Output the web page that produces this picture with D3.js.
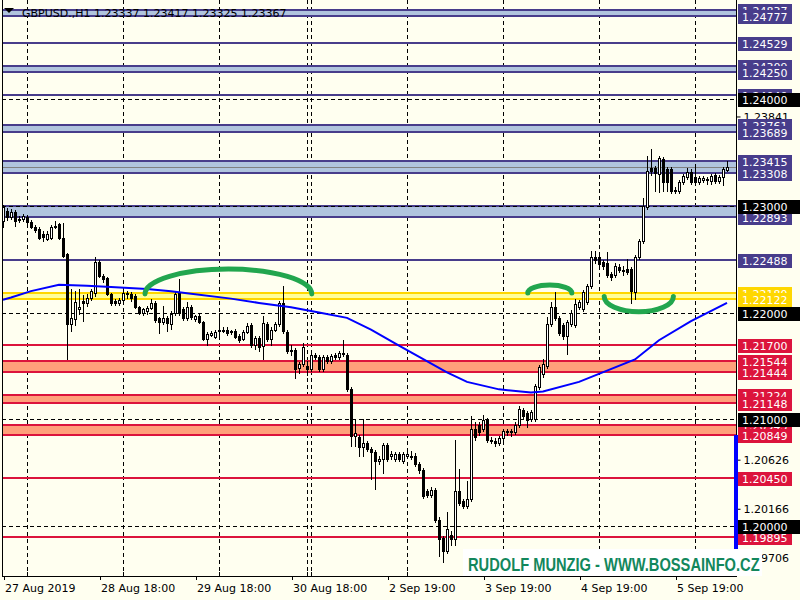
<!DOCTYPE html>
<html><head><meta charset="utf-8">
<script src="https://cdn.jsdelivr.net/npm/d3@7"></script>
<style>body{margin:0;background:#fffff0;}svg{display:block}</style>
</head><body><svg id="c" width="800" height="600"></svg>
<script>
const titleText = "GBPUSD.,H1  1.23337 1.23417 1.23325 1.23367";
const opens = [
1.2286,1.2295,1.2289,1.2294,1.2287,1.2288,1.2289,1.2285,1.2280,1.2278,
1.2274,1.2269,1.2270,1.2280,1.2283,1.2270,1.2255,1.2189,1.2194,1.2203,
1.2211,1.2209,1.2214,1.2218,1.2247,1.2234,1.2232,1.2217,1.2211,1.2209,
1.2212,1.2218,1.2217,1.2215,1.2205,1.2200,1.2201,1.2204,1.2209,1.2195,
1.2191,1.2195,1.2189,1.2200,1.2218,1.2203,1.2195,1.2205,1.2194,1.2197,
1.2191,1.2175,1.2179,1.2177,1.2183,1.2183,1.2184,1.2182,1.2183,1.2178,
1.2175,1.2182,1.2188,1.2170,1.2176,1.2169,1.2189,1.2175,1.2184,1.2189,
1.2209,1.2182,1.2165,1.2165,1.2148,1.2152,1.2150,1.2147,1.2160,1.2158,
1.2147,1.2158,1.2155,1.2160,1.2158,1.2161,1.2160,1.2128,1.2084,1.2083,
1.2074,1.2078,1.2072,1.2069,1.2061,1.2063,1.2076,1.2066,1.2063,1.2067,
1.2061,1.2066,1.2066,1.2066,1.2058,1.2052,1.2033,1.2029,1.2034,1.2006,
1.1989,1.1977,1.1992,1.1988,1.2033,1.2023,1.2019,1.2025,1.2091,1.2095,
1.2091,1.2099,1.2081,1.2080,1.2078,1.2082,1.2089,1.2088,1.2088,1.2095,
1.2109,1.2106,1.2100,1.2100,1.2130,1.2142,1.2150,1.2189,1.2205,1.2195,
1.2188,1.2178,1.2189,1.2188,1.2205,1.2203,1.2210,1.2225,1.2252,1.2252,
1.2247,1.2246,1.2236,1.2235,1.2243,1.2240,1.2241,1.2241,1.2219,1.2252,
1.2267,1.2299,1.2335,1.2335,1.2330,1.2344,1.2334,1.2334,1.2315,1.2314,
1.2322,1.2327,1.2332,1.2327,1.2322,1.2324,1.2325,1.2323,1.2329,1.2323,
1.2327,1.23337];
const highs = [
1.2301,1.2298,1.2297,1.2296,1.2290,1.2292,1.2291,1.2287,1.2282,1.2280,
1.2276,1.2276,1.2282,1.2286,1.2284,1.2284,1.2256,1.2222,1.2220,1.2222,
1.2216,1.2217,1.2222,1.2252,1.2249,1.2236,1.2233,1.2218,1.2213,1.2214,
1.2221,1.2220,1.2219,1.2217,1.2206,1.2204,1.2206,1.2213,1.2211,1.2196,
1.2206,1.2197,1.2201,1.2219,1.2231,1.2205,1.2210,1.2207,1.2198,1.2199,
1.2192,1.2182,1.2183,1.2184,1.2199,1.2186,1.2186,1.2184,1.2185,1.2180,
1.2184,1.2190,1.2190,1.2178,1.2178,1.2197,1.2191,1.2186,1.2191,1.2211,
1.2225,1.2184,1.2170,1.2167,1.2154,1.2171,1.2155,1.2162,1.2162,1.2160,
1.2160,1.2160,1.2161,1.2162,1.2164,1.2174,1.2162,1.2130,1.2100,1.2085,
1.2100,1.2080,1.2074,1.2071,1.2066,1.2078,1.2078,1.2070,1.2069,1.2069,
1.2069,1.2070,1.2070,1.2068,1.2060,1.2054,1.2035,1.2037,1.2036,1.2008,
1.1991,1.2013,1.1995,1.2081,1.2053,1.2025,1.2042,1.2103,1.2097,1.2097,
1.2104,1.2101,1.2083,1.2082,1.2084,1.2091,1.2091,1.2091,1.2097,1.2112,
1.2111,1.2108,1.2109,1.2133,1.2151,1.2156,1.2196,1.2210,1.2219,1.2197,
1.2190,1.2193,1.2202,1.2213,1.2212,1.2221,1.2227,1.2258,1.2258,1.2256,
1.2249,1.2257,1.2238,1.2246,1.2245,1.2244,1.2250,1.2243,1.2254,1.2269,
1.2307,1.2347,1.2353,1.2337,1.2347,1.2346,1.2336,1.2336,1.2318,1.2324,
1.2330,1.2335,1.2334,1.2339,1.2328,1.2328,1.2327,1.2330,1.2331,1.2329,
1.2336,1.23417];
const lows = [
1.2280,1.2287,1.2288,1.2281,1.2285,1.2286,1.2283,1.2279,1.2275,1.2269,
1.2267,1.2268,1.2269,1.2279,1.2269,1.2252,1.2156,1.2183,1.2188,1.2199,
1.2192,1.2206,1.2212,1.2215,1.2233,1.2229,1.2216,1.2207,1.2207,1.2207,
1.2211,1.2214,1.2211,1.2204,1.2199,1.2198,1.2199,1.2203,1.2191,1.2181,
1.2189,1.2183,1.2185,1.2198,1.2198,1.2193,1.2193,1.2194,1.2192,1.2190,
1.2174,1.2170,1.2178,1.2176,1.2177,1.2182,1.2179,1.2180,1.2176,1.2172,
1.2174,1.2181,1.2168,1.2166,1.2164,1.2156,1.2173,1.2170,1.2183,1.2187,
1.2181,1.2162,1.2160,1.2139,1.2143,1.2150,1.2141,1.2145,1.2156,1.2145,
1.2145,1.2153,1.2153,1.2156,1.2156,1.2159,1.2126,1.2075,1.2075,1.2066,
1.2066,1.2070,1.2044,1.2035,1.2058,1.2050,1.2061,1.2063,1.2061,1.2061,
1.2059,1.2064,1.2063,1.2056,1.2050,1.2026,1.2027,1.2027,1.2004,1.1972,
1.1966,1.1975,1.1982,1.1982,1.2020,1.2017,1.2017,1.2023,1.2081,1.2085,
1.2089,1.2079,1.2078,1.2075,1.2076,1.2080,1.2085,1.2084,1.2086,1.2093,
1.2101,1.2093,1.2098,1.2098,1.2128,1.2140,1.2148,1.2187,1.2193,1.2179,
1.2175,1.2161,1.2187,1.2186,1.2203,1.2201,1.2208,1.2223,1.2246,1.2243,
1.2241,1.2233,1.2230,1.2233,1.2238,1.2235,1.2236,1.2209,1.2213,1.2250,
1.2265,1.2297,1.2329,1.2314,1.2313,1.2314,1.2314,1.2312,1.2312,1.2312,
1.2320,1.2325,1.2320,1.2320,1.2320,1.2322,1.2320,1.2320,1.2321,1.2321,
1.2319,1.23325];
const closes = [
1.2299,1.2289,1.2294,1.2286,1.2288,1.2290,1.2285,1.2280,1.2277,1.2270,
1.2271,1.2274,1.2280,1.2281,1.2270,1.2253,1.2189,1.2195,1.2210,1.2205,
1.2209,1.2214,1.2220,1.2247,1.2234,1.2231,1.2217,1.2209,1.2209,1.2212,
1.2218,1.2217,1.2214,1.2205,1.2200,1.2203,1.2204,1.2209,1.2193,1.2191,
1.2195,1.2190,1.2199,1.2217,1.2200,1.2195,1.2205,1.2196,1.2197,1.2191,
1.2175,1.2180,1.2181,1.2182,1.2184,1.2184,1.2181,1.2183,1.2177,1.2174,
1.2182,1.2187,1.2170,1.2176,1.2168,1.2190,1.2175,1.2184,1.2189,1.2209,
1.2183,1.2164,1.2164,1.2147,1.2152,1.2168,1.2147,1.2160,1.2158,1.2147,
1.2158,1.2155,1.2159,1.2158,1.2162,1.2162,1.2128,1.2084,1.2087,1.2074,
1.2078,1.2072,1.2069,1.2061,1.2063,1.2076,1.2063,1.2067,1.2067,1.2063,
1.2067,1.2067,1.2065,1.2058,1.2052,1.2028,1.2029,1.2034,1.2006,1.1988,
1.1977,1.1997,1.1988,1.2033,1.2022,1.2019,1.2025,1.2091,1.2083,1.2088,
1.2099,1.2081,1.2080,1.2078,1.2082,1.2089,1.2088,1.2089,1.2095,1.2110,
1.2103,1.2099,1.2107,1.2131,1.2149,1.2152,1.2189,1.2205,1.2195,1.2181,
1.2178,1.2191,1.2200,1.2208,1.2210,1.2219,1.2225,1.2252,1.2249,1.2245,
1.2244,1.2235,1.2233,1.2244,1.2240,1.2239,1.2238,1.2220,1.2252,1.2267,
1.2300,1.2333,1.2333,1.2331,1.2345,1.2322,1.2322,1.2314,1.2314,1.2322,
1.2328,1.2332,1.2322,1.2322,1.2326,1.2326,1.2324,1.2328,1.2323,1.2327,
1.2334,1.23367];

// moving average (candle index, price)
const maIdx = [0,2,7,14,21,27,36,42,46,57,64,72,79,86,92,99,111,116,124,132,135,144,158,164,172,181];
const maVal = [1.2212,1.2214,1.2220,1.2226,1.2225,1.2224,1.2222,1.2220,1.2218,1.2213,1.2209,1.2205,1.2200,1.2195,1.2184,1.2169,1.2144,1.2135,1.2128,1.2125,1.2126,1.2135,1.2156,1.2174,1.2192,1.2209];

// time axis
const timeTickIdx = [0,24,48,72,96,120,144,168];
const timeTickLabels = ["27 Aug 2019","28 Aug 18:00","29 Aug 18:00","30 Aug 18:00","2 Sep 19:00","3 Sep 19:00","4 Sep 19:00","5 Sep 19:00"];
const gridIdx = [6,30,54,76,77,101,125,149,173];

// levels
const blueZones = [[1.24837,1.24777],[1.24309,1.24250],[1.23761,1.23689],[1.23415,1.23308],[1.23000,1.22893]];
const blueLines = [1.24529,1.24040,1.22488];
const goldZones = [[1.22180,1.22122]];
const redZones = [[1.21544,1.21444],[1.21224,1.21148],[1.20943,1.20849]];
const redLines = [1.21700,1.20450,1.19895];
const roundLines = [1.24,1.23,1.22,1.21,1.20];
const plainTicks = [1.23841,1.20626,1.20166,1.19706];
const currentPrice = 1.23367;

// green arcs: [startIdx, endIdx, basePrice, extremePrice]
const arcs = [[35.5,77.2,1.22173,1.22407],[131.2,142.2,1.22183,1.22258],[150.3,167.6,1.22150,1.22007]];

const watermark = "RUDOLF MUNZIG - WWW.BOSSAINFO.CZ";

const svg = d3.select("#c");
const W=800,H=600, plotR=736, plotB=576;
const x = d3.scaleLinear().domain([0,181]).range([3,727]);
const y = d3.scaleLinear().domain([1.20,1.24]).range([526,99]);
const fnt = "DejaVu Sans, Verdana, sans-serif";

svg.append("rect").attr("width",W).attr("height",H).attr("fill","#fffff0");

// grid
const gGrid = svg.append("g");
gridIdx.forEach(i=>{
  gGrid.append("line").attr("x1",x(i)+0.5).attr("x2",x(i)+0.5).attr("y1",0).attr("y2",plotB)
   .attr("stroke","#000").attr("stroke-dasharray","4,3").attr("shape-rendering","crispEdges");
});

// zones
const gZ = svg.append("g").attr("shape-rendering","crispEdges");
function zone(pair, fill, line){
  const y0=Math.round(y(pair[0])), y1=Math.round(y(pair[1]));
  gZ.append("rect").attr("x",2).attr("width",plotR-2).attr("y",y0).attr("height",y1-y0).attr("fill",fill);
  [y0,y1].forEach(yy=>gZ.append("rect").attr("x",2).attr("width",plotR-2).attr("y",yy-1).attr("height",2).attr("fill",line));
}
function hline(p,color){
  const yy=Math.round(y(p));
  gZ.append("rect").attr("x",2).attr("width",plotR-2).attr("y",yy-1).attr("height",2).attr("fill",color);
}
blueZones.forEach(z=>zone(z,"#b0c4de","#483d8b"));
goldZones.forEach(z=>zone(z,"#ffff99","#ffd700"));
redZones.forEach(z=>zone(z,"#ffa07a","#dc143c"));
blueLines.forEach(p=>hline(p,"#483d8b"));
redLines.forEach(p=>hline(p,"#dc143c"));
roundLines.forEach(p=>{
  const yy=Math.round(y(p))+0.5;
  gZ.append("line").attr("x1",2).attr("x2",plotR).attr("y1",yy).attr("y2",yy).attr("stroke","#000").attr("stroke-dasharray","4,3");
});
{
  const yy=Math.round(y(currentPrice))+0.5;
  gZ.append("line").attr("x1",2).attr("x2",plotR).attr("y1",yy).attr("y2",yy).attr("stroke","#808080");
}

// candles
const gC = svg.append("g").attr("shape-rendering","crispEdges");
opens.forEach((o,i)=>{
  const c=closes[i], h=highs[i], l=lows[i];
  const px=Math.round(x(i));
  const yo=Math.round(y(o)), yc=Math.round(y(c)), yh=Math.round(y(h)), yl=Math.round(y(l));
  gC.append("line").attr("x1",px+0.5).attr("x2",px+0.5).attr("y1",yh).attr("y2",yl+1).attr("stroke","#000");
  const top=Math.min(yo,yc), bot=Math.max(yo,yc);
  if(c>o && bot>top){
    gC.append("rect").attr("x",px-0.5).attr("y",top+0.5).attr("width",2).attr("height",bot-top)
      .attr("fill","#fff").attr("stroke","#000");
  } else {
    gC.append("rect").attr("x",px-1).attr("y",top).attr("width",3).attr("height",Math.max(bot-top+1,1)).attr("fill","#000");
  }
});

// moving average
svg.append("path").datum(maIdx.map((d,k)=>[d,maVal[k]]))
  .attr("d",d3.line().x(d=>x(d[0])).y(d=>y(d[1])))
  .attr("fill","none").attr("stroke","#0000ff").attr("stroke-width",2);

// arcs
arcs.forEach(a=>{
  const x0=x(a[0]), x1=x(a[1]), yb=y(a[2]), ye=y(a[3]);
  const rx=(x1-x0)/2, ry=Math.abs(yb-ye);
  const sweep = ye<yb ? 1 : 0;
  svg.append("path").attr("d",`M${x0},${yb} A${rx},${ry} 0 0 ${sweep} ${x1},${yb}`)
    .attr("fill","none").attr("stroke","#22a64e").attr("stroke-width",5).attr("stroke-linecap","round");
});

// frame
svg.append("line").attr("x1",2.5).attr("x2",2.5).attr("y1",0).attr("y2",plotB).attr("stroke","#000");

// bottom axis
const axB = d3.axisBottom(x).tickValues(timeTickIdx).tickFormat((d,k)=>timeTickLabels[k]).tickSize(4).tickSizeOuter(0);
const gB = svg.append("g").attr("transform",`translate(0.5,${plotB})`).call(axB);
gB.select(".domain").remove();
gB.selectAll("text").attr("text-anchor","start").attr("dx","0.1em").attr("y",7).attr("dy","0.85em")
  .attr("font-family",fnt).attr("font-size",11).attr("fill","#000");
gB.selectAll(".tick line").attr("shape-rendering","crispEdges");
svg.append("line").attr("x1",2).attr("x2",plotR+1).attr("y1",plotB+0.5).attr("y2",plotB+0.5).attr("stroke","#000");
gridIdx.forEach(i=>svg.append("line").attr("x1",x(i)+0.5).attr("x2",x(i)+0.5).attr("y1",plotB-4).attr("y2",plotB).attr("stroke","#000"));

// right axis
svg.append("line").attr("x1",plotR+0.5).attr("x2",plotR+0.5).attr("y1",0).attr("y2",plotB+1).attr("stroke","#000");
const axR = d3.axisRight(y).tickValues(plainTicks).tickFormat(d3.format(".5f")).tickSize(4).tickSizeOuter(0);
const gR = svg.append("g").attr("transform",`translate(${plotR+0.5},0.5)`).call(axR);
gR.select(".domain").remove();
gR.selectAll("text").attr("x",7).attr("font-family",fnt).attr("font-size",11).attr("fill","#000");

// blue bar on price scale
svg.append("rect").attr("x",734).attr("y",435).attr("width",4).attr("height",117).attr("fill","#0000ff");

// price labels
const gL = svg.append("g");
function label(p,bg,wide){
  const cy=Math.round(y(p))+1;
  gL.append("rect").attr("x",738).attr("y",cy-7).attr("width",wide?62:54).attr("height",14).attr("fill",bg);
  gL.append("text").attr("x",742).attr("y",cy+4).attr("font-family",fnt).attr("font-size",11).attr("fill","#fff").text(p.toFixed(5));
}
const colored = [];
blueZones.forEach(z=>{colored.push([z[0],"#483d8b"]);colored.push([z[1],"#483d8b"]);});
blueLines.forEach(p=>colored.push([p,"#483d8b"]));
goldZones.forEach(z=>{colored.push([z[0],"#ffd700"]);colored.push([z[1],"#ffd700"]);});
redZones.forEach(z=>{colored.push([z[0],"#dc143c"]);colored.push([z[1],"#dc143c"]);});
redLines.forEach(p=>colored.push([p,"#dc143c"]));
colored.sort((a,b)=>b[0]-a[0]).forEach(d=>label(d[0],d[1],false));
roundLines.forEach(p=>label(p,"#000",true));

// watermark (drawn over the price scale corner, as in the reference)
svg.append("rect").attr("x",463).attr("y",549).attr("width",299).attr("height",27).attr("fill","#fff");
const wm = svg.append("text").attr("x",0).attr("y",0).attr("font-family","Liberation Sans, Arial, sans-serif")
  .attr("font-weight","bold").attr("font-size",18).attr("fill","#13875c").text(watermark);
const natW = wm.node().getComputedTextLength();
wm.attr("transform",`translate(468,571) scale(${292/natW},1)`);

// title
svg.append("path").attr("d","M4,8 L14,8 L9,13 Z").attr("fill","#000");
svg.append("text").attr("x",22).attr("y",17).attr("font-family",fnt).attr("font-size",11).attr("fill","#000").text(titleText);
</script></body></html>
